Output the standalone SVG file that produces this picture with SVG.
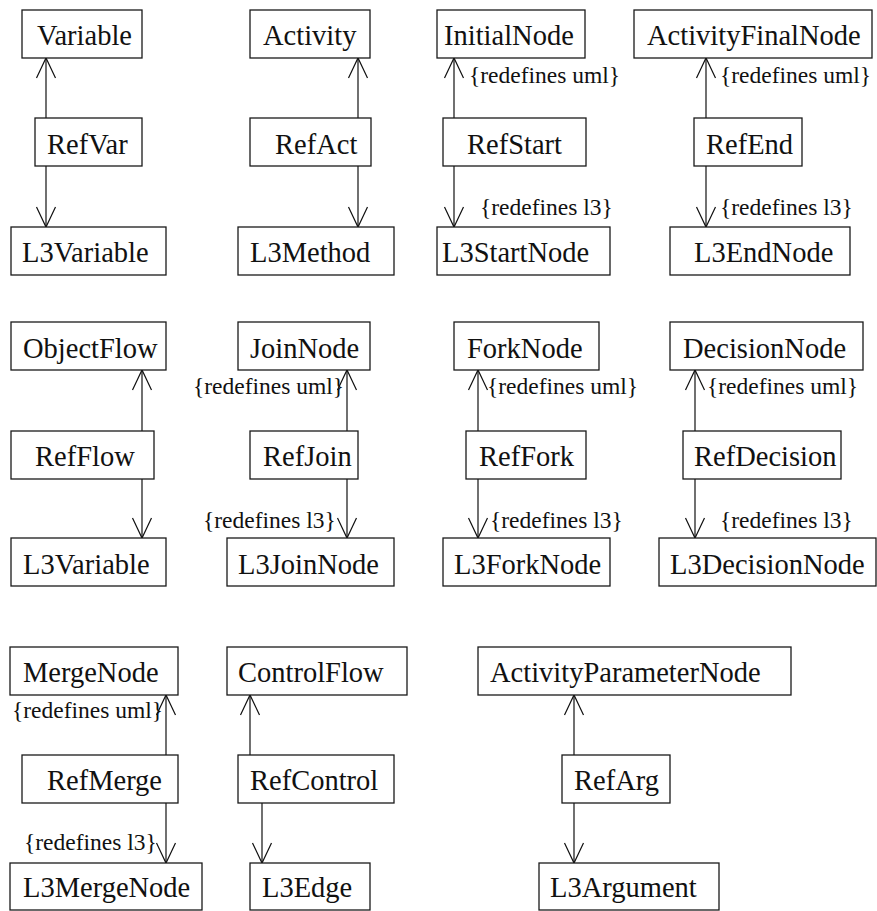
<svg xmlns="http://www.w3.org/2000/svg" width="877" height="911" viewBox="0 0 877 911">
  <style>
    .box rect { fill: #ffffff; stroke: #1a1a1a; stroke-width: 1.3; }
    .box text { font-family: 'Liberation Serif', serif; font-size: 28.5px; fill: #111111; }
    .edges line { stroke: #111111; stroke-width: 1.2; fill: none; }
    .lbl { font-family: 'Liberation Serif', serif; font-size: 23.5px; fill: #111111; }
  </style>
  <defs>
    <marker id="open" markerUnits="userSpaceOnUse" markerWidth="24" markerHeight="24" viewBox="-22 -11 24 22" refX="0" refY="0" orient="auto">
      <path d="M-20,-9.5 L0,0 L-20,9.5" fill="none" stroke="#111111" stroke-width="1.2"/>
    </marker>
  </defs>
  <rect width="877" height="911" fill="#ffffff"/>

  <g style="font-family: 'Liberation Serif', serif">
  <!-- connectors: each Ref* node points up to its uml element and down to its l3 element -->
  <g id="connectors" class="edges">
    <line x1="46" y1="118" x2="46" y2="58" marker-end="url(#open)"/>
    <line x1="46" y1="166" x2="46" y2="227" marker-end="url(#open)"/>
    <line x1="358" y1="118" x2="358" y2="58" marker-end="url(#open)"/>
    <line x1="358" y1="166" x2="358" y2="227" marker-end="url(#open)"/>
    <line x1="454" y1="118" x2="454" y2="58" marker-end="url(#open)"/>
    <line x1="454" y1="166" x2="454" y2="227" marker-end="url(#open)"/>
    <line x1="706" y1="118" x2="706" y2="58" marker-end="url(#open)"/>
    <line x1="706" y1="166" x2="706" y2="227" marker-end="url(#open)"/>

    <line x1="142" y1="431" x2="142" y2="370" marker-end="url(#open)"/>
    <line x1="142" y1="479" x2="142" y2="538" marker-end="url(#open)"/>
    <line x1="347" y1="431" x2="347" y2="370" marker-end="url(#open)"/>
    <line x1="347" y1="479" x2="347" y2="538" marker-end="url(#open)"/>
    <line x1="478" y1="431" x2="478" y2="370" marker-end="url(#open)"/>
    <line x1="478" y1="479" x2="478" y2="538" marker-end="url(#open)"/>
    <line x1="695" y1="431" x2="695" y2="370" marker-end="url(#open)"/>
    <line x1="695" y1="479" x2="695" y2="538" marker-end="url(#open)"/>

    <line x1="166" y1="755" x2="166" y2="695" marker-end="url(#open)"/>
    <line x1="166" y1="803" x2="166" y2="863" marker-end="url(#open)"/>
    <line x1="250" y1="755" x2="250" y2="695" marker-end="url(#open)"/>
    <line x1="262" y1="803" x2="262" y2="863" marker-end="url(#open)"/>
    <line x1="574" y1="755" x2="574" y2="695" marker-end="url(#open)"/>
    <line x1="574" y1="803" x2="574" y2="863" marker-end="url(#open)"/>

    <text class="lbl" x="469" y="83">{redefines uml}</text>
    <text class="lbl" x="480" y="215">{redefines l3}</text>
    <text class="lbl" x="720" y="83">{redefines uml}</text>
    <text class="lbl" x="720" y="215">{redefines l3}</text>
    <text class="lbl" x="193" y="394">{redefines uml}</text>
    <text class="lbl" x="203" y="528">{redefines l3}</text>
    <text class="lbl" x="487" y="394">{redefines uml}</text>
    <text class="lbl" x="490" y="528">{redefines l3}</text>
    <text class="lbl" x="707" y="394">{redefines uml}</text>
    <text class="lbl" x="720" y="528">{redefines l3}</text>
    <text class="lbl" x="12" y="718">{redefines uml}</text>
    <text class="lbl" x="24" y="850">{redefines l3}</text>
  </g>

  <!-- row 1 -->
  <g id="Variable" class="box"><rect x="22" y="10" width="120" height="48"/><text x="37" y="45">Variable</text></g>
  <g id="RefVar" class="box"><rect x="35" y="118" width="107" height="48"/><text x="47" y="154">RefVar</text></g>
  <g id="L3Variable" class="box"><rect x="11" y="227" width="155" height="48"/><text x="22" y="262">L3Variable</text></g>

  <g id="Activity" class="box"><rect x="250" y="10" width="120" height="48"/><text x="263" y="45">Activity</text></g>
  <g id="RefAct" class="box"><rect x="250" y="118" width="121" height="48"/><text x="275" y="154">RefAct</text></g>
  <g id="L3Method" class="box"><rect x="238" y="227" width="156" height="48"/><text x="250" y="262">L3Method</text></g>

  <g id="InitialNode" class="box"><rect x="437" y="10" width="148" height="48"/><text x="444" y="45">InitialNode</text></g>
  <g id="RefStart" class="box"><rect x="443" y="118" width="143" height="48"/><text x="467" y="154">RefStart</text></g>
  <g id="L3StartNode" class="box"><rect x="437" y="227" width="173" height="48"/><text x="442" y="262">L3StartNode</text></g>

  <g id="ActivityFinalNode" class="box"><rect x="634" y="10" width="238" height="48"/><text x="647" y="45">ActivityFinalNode</text></g>
  <g id="RefEnd" class="box"><rect x="694" y="118" width="108" height="48"/><text x="706" y="154">RefEnd</text></g>
  <g id="L3EndNode" class="box"><rect x="670" y="227" width="180" height="48"/><text x="694" y="262">L3EndNode</text></g>

  <!-- row 2 -->
  <g id="ObjectFlow" class="box"><rect x="11" y="322" width="155" height="48"/><text x="23" y="358">ObjectFlow</text></g>
  <g id="RefFlow" class="box"><rect x="11" y="431" width="143" height="48"/><text x="35" y="466">RefFlow</text></g>
  <g id="L3Variable2" class="box"><rect x="11" y="538" width="155" height="48"/><text x="23" y="574">L3Variable</text></g>

  <g id="JoinNode" class="box"><rect x="238" y="322" width="132" height="48"/><text x="250" y="358">JoinNode</text></g>
  <g id="RefJoin" class="box"><rect x="250" y="431" width="108" height="48"/><text x="263" y="466">RefJoin</text></g>
  <g id="L3JoinNode" class="box"><rect x="227" y="538" width="167" height="48"/><text x="238" y="574">L3JoinNode</text></g>

  <g id="ForkNode" class="box"><rect x="454" y="322" width="145" height="48"/><text x="467" y="358">ForkNode</text></g>
  <g id="RefFork" class="box"><rect x="466" y="431" width="120" height="48"/><text x="479" y="466">RefFork</text></g>
  <g id="L3ForkNode" class="box"><rect x="443" y="538" width="167" height="48"/><text x="454" y="574">L3ForkNode</text></g>

  <g id="DecisionNode" class="box"><rect x="670" y="322" width="193" height="48"/><text x="683" y="358">DecisionNode</text></g>
  <g id="RefDecision" class="box"><rect x="683" y="431" width="158" height="48"/><text x="694" y="466">RefDecision</text></g>
  <g id="L3DecisionNode" class="box"><rect x="659" y="538" width="217" height="48"/><text x="670" y="574">L3DecisionNode</text></g>

  <!-- row 3 -->
  <g id="MergeNode" class="box"><rect x="10" y="647" width="168" height="48"/><text x="23" y="682">MergeNode</text></g>
  <g id="RefMerge" class="box"><rect x="22" y="755" width="156" height="48"/><text x="47" y="790">RefMerge</text></g>
  <g id="L3MergeNode" class="box"><rect x="10" y="863" width="192" height="47"/><text x="23" y="897">L3MergeNode</text></g>

  <g id="ControlFlow" class="box"><rect x="227" y="647" width="180" height="48"/><text x="238" y="682">ControlFlow</text></g>
  <g id="RefControl" class="box"><rect x="238" y="755" width="156" height="48"/><text x="250" y="790">RefControl</text></g>
  <g id="L3Edge" class="box"><rect x="250" y="863" width="120" height="47"/><text x="262" y="897">L3Edge</text></g>

  <g id="ActivityParameterNode" class="box"><rect x="478" y="647" width="313" height="48"/><text x="490" y="682">ActivityParameterNode</text></g>
  <g id="RefArg" class="box"><rect x="562" y="755" width="108" height="48"/><text x="574" y="790">RefArg</text></g>
  <g id="L3Argument" class="box"><rect x="539" y="863" width="180" height="47"/><text x="550" y="897">L3Argument</text></g>
  </g>
</svg>
